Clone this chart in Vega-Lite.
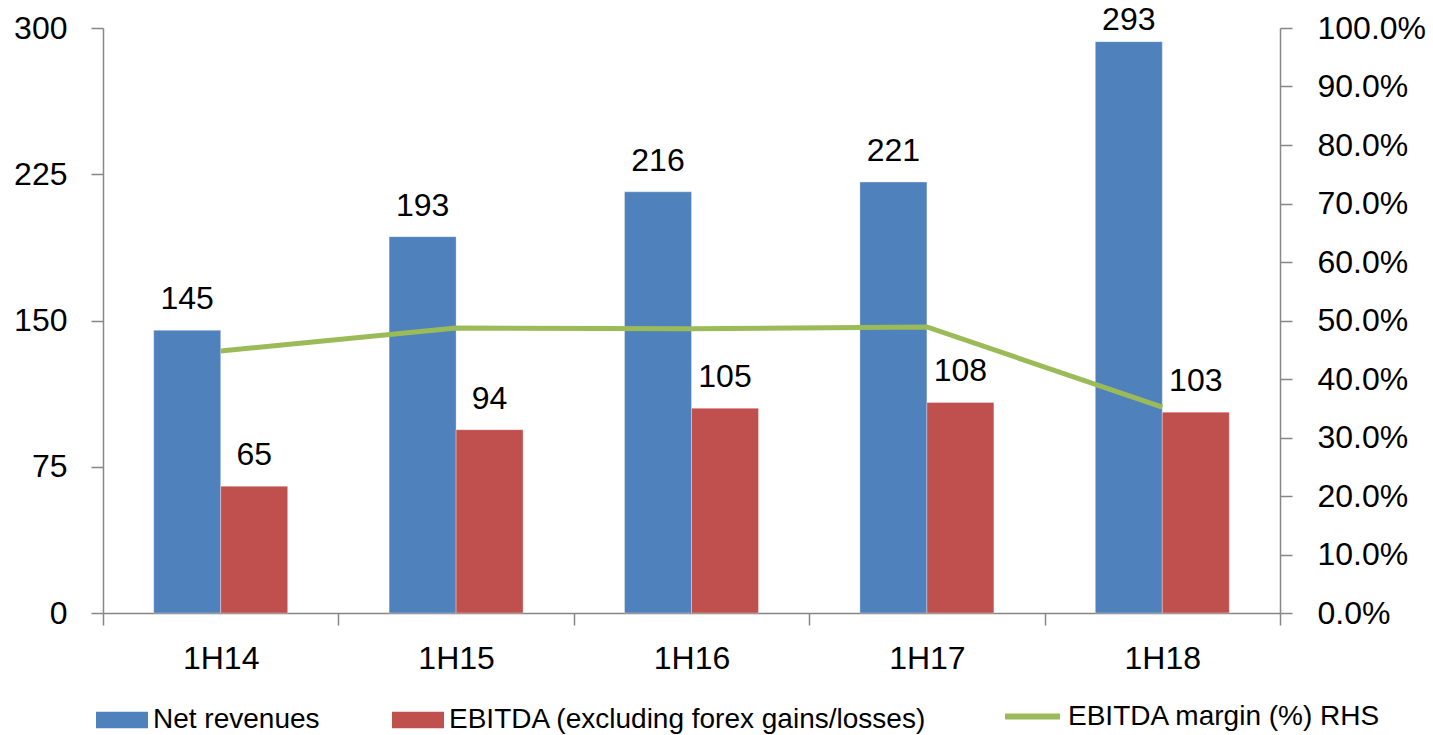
{
  "$schema": "https://vega.github.io/schema/vega-lite/v6.json",
  "width": 1177,
  "height": 585,
  "autosize": "none",
  "padding": {"left": 103, "top": 28, "right": 153, "bottom": 122},
  "background": "white",
  "config": {
    "view": {"stroke": null},
    "font": "Liberation Sans",
    "axis": {
      "labelFont": "Liberation Sans",
      "labelFontSize": 32,
      "labelColor": "#000000",
      "domainColor": "#868686",
      "tickColor": "#868686",
      "domainWidth": 1.5,
      "tickWidth": 1.5,
      "grid": false,
      "title": null,
      "tickSize": 12
    },
    "legend": {
      "labelFont": "Liberation Sans",
      "labelFontSize": 28,
      "labelColor": "#000000",
      "labelLimit": 0,
      "title": null,
      "orient": "none",
      "direction": "horizontal",
      "labelOffset": 5
    }
  },
  "datasets": {
    "bars": [
      {"period": "1H14", "series": "Net revenues", "value": 145},
      {"period": "1H14", "series": "EBITDA (excluding forex gains/losses)", "value": 65},
      {"period": "1H15", "series": "Net revenues", "value": 193},
      {"period": "1H15", "series": "EBITDA (excluding forex gains/losses)", "value": 94},
      {"period": "1H16", "series": "Net revenues", "value": 216},
      {"period": "1H16", "series": "EBITDA (excluding forex gains/losses)", "value": 105},
      {"period": "1H17", "series": "Net revenues", "value": 221},
      {"period": "1H17", "series": "EBITDA (excluding forex gains/losses)", "value": 108},
      {"period": "1H18", "series": "Net revenues", "value": 293},
      {"period": "1H18", "series": "EBITDA (excluding forex gains/losses)", "value": 103}
    ],
    "margin": [
      {"period": "1H14", "margin": 0.448},
      {"period": "1H15", "margin": 0.487},
      {"period": "1H16", "margin": 0.486},
      {"period": "1H17", "margin": 0.489},
      {"period": "1H18", "margin": 0.352}
    ]
  },
  "layer": [
    {
      "data": {"name": "bars"},
      "encoding": {
        "x": {
          "field": "period",
          "type": "nominal",
          "sort": null,
          "scale": {"paddingInner": 0, "paddingOuter": 0},
          "axis": {"labelAngle": 0, "tickBand": "extent", "labelPadding": 18}
        },
        "xOffset": {
          "field": "series",
          "type": "nominal",
          "scale": {"domain": ["Net revenues", "EBITDA (excluding forex gains/losses)"], "paddingInner": 0, "paddingOuter": 0.757}
        },
        "y": {
          "field": "value",
          "type": "quantitative",
          "scale": {"domain": [0, 300], "nice": false},
          "axis": {"values": [0, 75, 150, 225, 300], "labelPadding": 24}
        }
      },
      "layer": [
        {
          "mark": {"type": "bar", "stroke": "#ffffff", "strokeOpacity": 0.4, "strokeWidth": 0.8},
          "encoding": {
            "fill": {
              "field": "series",
              "type": "nominal",
              "scale": {
                "domain": ["Net revenues", "EBITDA (excluding forex gains/losses)"],
                "range": ["#4F81BD", "#C0504D"]
              },
              "legend": {
                "legendX": -7,
                "legendY": 666,
                "symbolSize": 2704,
                "columnPadding": 72,
                "symbolStrokeWidth": 0,
                "symbolOpacity": 1,
                "symbolType": "M-1,-0.32L1,-0.32L1,0.32L-1,0.32Z"
              }
            }
          }
        },
        {
          "transform": [{"filter": "datum.value < 280"}],
          "mark": {"type": "text", "baseline": "alphabetic", "dy": -21, "fontSize": 32, "font": "Liberation Sans", "color": "#000000"},
          "encoding": {
            "text": {"field": "value", "type": "quantitative"}
          }
        },
        {
          "transform": [{"filter": "datum.value >= 280"}],
          "mark": {"type": "text", "baseline": "alphabetic", "dy": -12, "fontSize": 32, "font": "Liberation Sans", "color": "#000000"},
          "encoding": {
            "text": {"field": "value", "type": "quantitative"}
          }
        }
      ]
    },
    {
      "data": {"name": "margin"},
      "mark": {"type": "line", "strokeWidth": 5},
      "encoding": {
        "x": {"field": "period", "type": "nominal", "sort": null},
        "y": {
          "field": "margin",
          "type": "quantitative",
          "scale": {"domain": [0, 1], "nice": false},
          "axis": {"orient": "right", "format": ".1%", "values": [0, 0.1, 0.2, 0.3, 0.4, 0.5, 0.6, 0.7, 0.8, 0.9, 1.0], "labelPadding": 25}
        },
        "stroke": {
          "datum": "EBITDA margin (%) RHS",
          "scale": {"range": ["#9BBB59"]},
          "legend": {
            "legendX": 899,
            "legendY": 658,
            "symbolType": "stroke",
            "symbolSize": 3025,
            "symbolStrokeWidth": 6,
            "symbolOpacity": 1
          }
        }
      }
    }
  ],
  "resolve": {"scale": {"y": "independent"}}
}
